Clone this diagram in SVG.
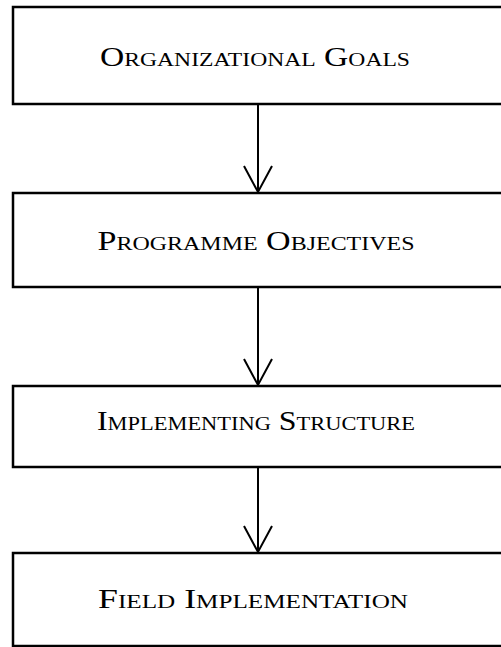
<svg xmlns="http://www.w3.org/2000/svg" width="501" height="647" viewBox="0 0 501 647">
<defs>
<style>
.box{fill:#fff;stroke:#000;stroke-width:2.5}
.lbl{font-family:"Liberation Serif","Times New Roman",serif;font-size:27px;font-variant:small-caps;text-anchor:middle;fill:#000}
.conn{stroke:#000;stroke-width:2;fill:none}
</style>
</defs>
<rect width="501" height="647" fill="#fff"/>
<g id="node1"><rect class="box" x="13" y="7" width="500" height="97"/><text class="lbl" x="255" y="66" textLength="310" lengthAdjust="spacingAndGlyphs">Organizational Goals</text></g>
<g id="node2"><rect class="box" x="13" y="193" width="500" height="94"/><text class="lbl" x="256" y="250" textLength="317" lengthAdjust="spacingAndGlyphs">Programme Objectives</text></g>
<g id="node3"><rect class="box" x="13" y="386" width="500" height="81"/><text class="lbl" x="256" y="430" textLength="318" lengthAdjust="spacingAndGlyphs">Implementing Structure</text></g>
<g id="node4"><rect class="box" x="13" y="553" width="500" height="93"/><text class="lbl" x="253" y="608" textLength="310" lengthAdjust="spacingAndGlyphs">Field Implementation</text></g>
<g id="connectors">
<path class="conn" d="M258 104V193M244 166L258 192L272 166"/>
<path class="conn" d="M258 287V386M244 359L258 385L272 359"/>
<path class="conn" d="M258 467V553M244 526L258 552L272 526"/>
</g>
</svg>
